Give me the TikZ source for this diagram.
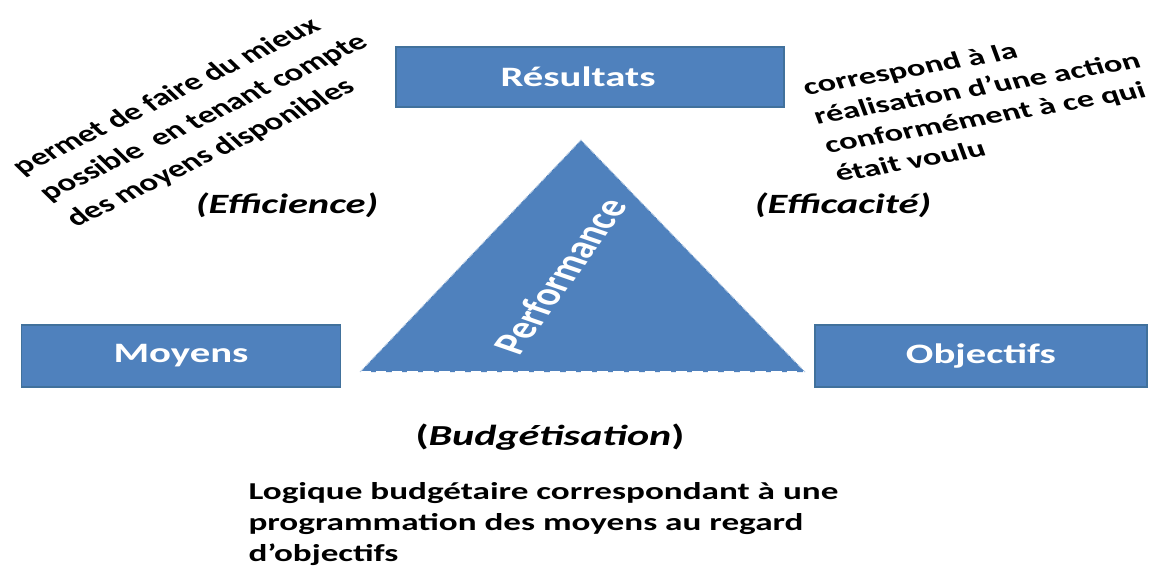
\documentclass[tikz,border=0pt]{standalone}
\usepackage{fontspec}
\setmainfont{Carlito}
\definecolor{boxblue}{HTML}{4F81BD}
\definecolor{boxedge}{HTML}{41719C}
\begin{document}
\begin{tikzpicture}[x=0.02cm,y=-0.02cm,
  % all lettering is set wide: rotate first, then stretch horizontally
  wide/.style={xscale=1.45},
  blockbox/.style={draw=boxedge, fill=boxblue, line width=0.8pt, inner sep=0pt},
  blocktext/.style={wide, text=white, font=\bfseries\fontsize{16}{19}\selectfont},
  label/.style={wide, font=\bfseries\itshape\fontsize{15.9}{19}\selectfont},
  note/.style={wide, font=\bfseries\fontsize{13.7}{18.2}\selectfont, align=left, inner sep=0pt}]
\useasboundingbox (0,0) rectangle (1149,566);

% three corner blocks
\node[blockbox, minimum width=388*0.02cm, minimum height=60*0.02cm] (res) at (590,77) {};
\node[blockbox, minimum width=319*0.02cm, minimum height=62*0.02cm] (moy) at (181,356) {};
\node[blockbox, minimum width=332*0.02cm, minimum height=62*0.02cm] (obj) at (981,356) {};
\node[blocktext] (resT) at ([xshift=-12*0.02cm]res.center) {Résultats};
\node[blocktext] (moyT) at (moy.center) {Moyens};
\node[blocktext] (objT) at (obj.center) {Objectifs};

% central performance triangle
\coordinate (apex) at (581,140);
\coordinate (bl) at (360,372);
\coordinate (br) at (805,372);
\fill[boxblue] (apex) -- (br) -- (bl) -- cycle;
\draw[white, dash pattern=on 6pt off 3pt, line width=0.9pt] (bl) -- (br);
\draw[white!60!boxblue, dash pattern=on 3pt off 2pt, line width=0.5pt] (bl) -- (apex) -- (br);
\node[wide, rotate=63.4, text=white, font=\bfseries\fontsize{18}{21}\selectfont] (perf) at (560,276) {Performance};

% side labels
\node[label] (effi) at (287,205) {(Efficience)};
\node[label] (effa) at (843,205) {(Efficacité)};
\node[wide, font=\bfseries\fontsize{16.5}{19}\selectfont] (budg) at (550,437) {(\textit{Budgétisation})};

% explanatory notes
\node[note, rotate=35.3] (n1) at (204,118) {permet de faire du mieux\\ possible \ en tenant compte\\ des moyens disponibles};
\node[note, rotate=14.3, font=\bfseries\fontsize{13.5}{17}\selectfont] (n2) at (982,102) {correspond à la\\ réalisation d’une action\\ conformément à ce qui\\ était voulu};
\node[note, anchor=north west, font=\bfseries\fontsize{13.8}{17.6}\selectfont] (n3) at (248,482) {Logique budgétaire correspondant à une\\ programmation des moyens au regard\\ d’objectifs};
\end{tikzpicture}
\end{document}
